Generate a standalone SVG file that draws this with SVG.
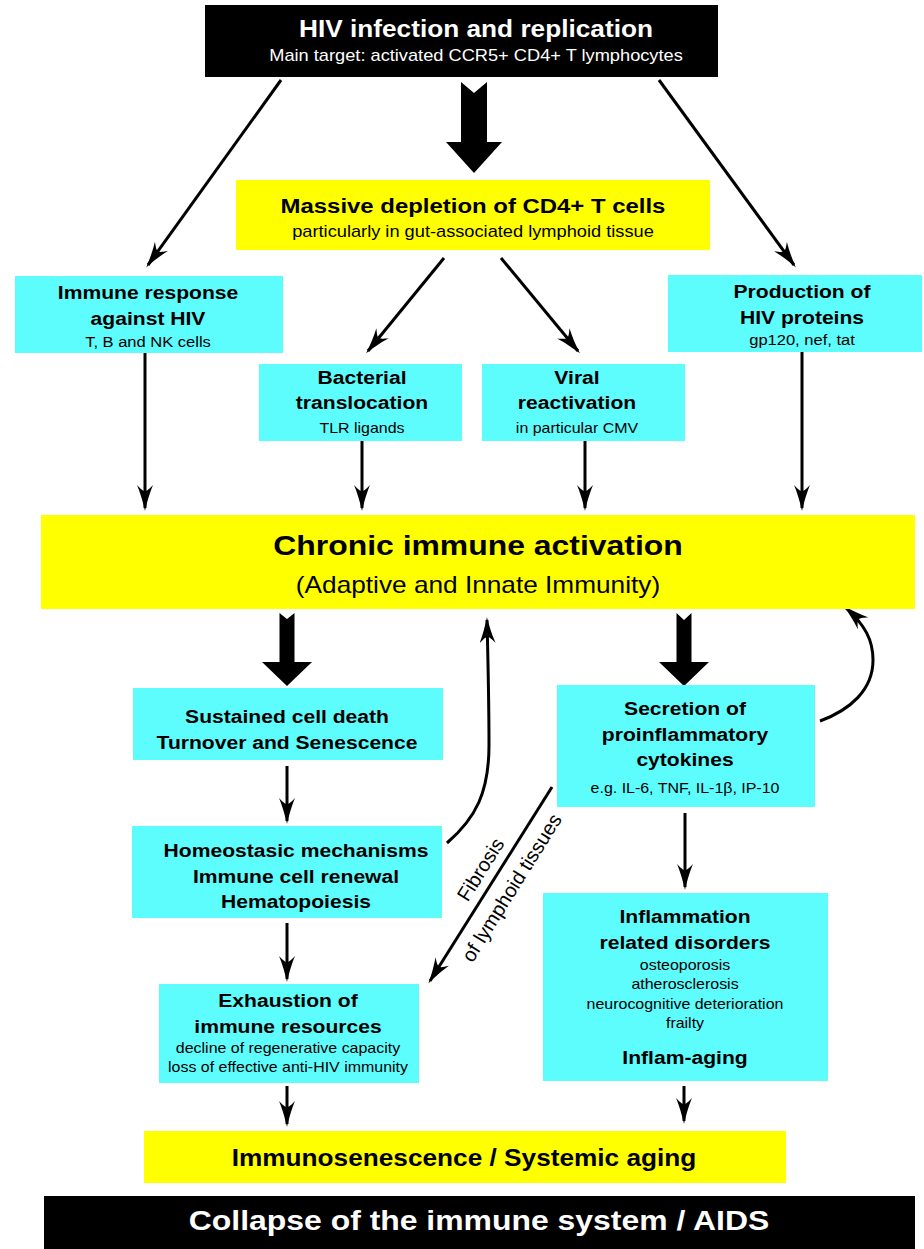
<svg xmlns="http://www.w3.org/2000/svg" width="924" height="1249" viewBox="0 0 924 1249">
  <style>
    text { font-family: "Liberation Sans", Arial, Helvetica, sans-serif; text-anchor: middle; fill: #000; }
    .b { font-weight: bold; }
    .t18 { font-size: 18.5px; font-weight: bold; }
    .s14 { font-size: 14px; }
    .cyan { fill: #5dfdfd; }
    .yellow { fill: #ffff00; }
    .dark { fill: #000; }
    .w { fill: #fff; }
    .ln { fill: none; stroke: #000; stroke-width: 3; marker-end: url(#ah); }
    .blk { fill: #000; }
  </style>
  <defs>
    <!-- slim barbed arrowhead used by all thin connectors -->
    <marker id="ah" markerUnits="userSpaceOnUse" viewBox="0 0 26 16" markerWidth="26" markerHeight="16" refX="23" refY="8" orient="auto">
      <path d="M26,8 C17,6 7,3 0,0 C4,4 6,6 6,8 C6,10 4,12 0,16 C7,13 17,10 26,8 Z" fill="#000"/>
    </marker>
  </defs>

  <!-- connectors -->
  <g id="connectors">
    <line class="ln" x1="281" y1="80" x2="148" y2="265"/>
    <line class="ln" x1="659" y1="80" x2="794" y2="265"/>
    <line class="ln" x1="444" y1="258" x2="368" y2="351"/>
    <line class="ln" x1="501" y1="258" x2="578" y2="351"/>
    <line class="ln" x1="145" y1="353" x2="145" y2="508"/>
    <line class="ln" x1="362" y1="441" x2="362" y2="508"/>
    <line class="ln" x1="585" y1="441" x2="585" y2="508"/>
    <line class="ln" x1="802" y1="352" x2="802" y2="508"/>
    <line class="ln" x1="287" y1="766" x2="287" y2="821"/>
    <line class="ln" x1="287" y1="923" x2="287" y2="979"/>
    <line class="ln" x1="287" y1="1086" x2="287" y2="1124"/>
    <line class="ln" x1="685" y1="813" x2="685" y2="887"/>
    <line class="ln" x1="684" y1="1086" x2="684" y2="1121"/>
    <path class="ln" d="M447,843 C476,818 489,792 489,745 C489,700 488,660 487,620"/>
    <path class="ln" d="M820,721 C850,710 873,690 873,660 C873,640 865,625 846,608"/>
    <line class="ln" x1="552" y1="787" x2="430" y2="981"/>
    <!-- block arrows -->
    <polygon class="blk" points="461,82 474,93 487,82 487,142 502,142 474,173 446,142 461,142"/>
    <polygon class="blk" points="279.5,613 287,619 294.5,613 294.5,662 312,662 287,686 262,662 279.5,662"/>
    <polygon class="blk" points="676.5,613 684,620 691.5,613 691.5,662 709,662 684,686 659,662 676.5,662"/>
    <!-- connector label -->
    <g transform="translate(483,871) rotate(-58)"><text x="0" y="4" font-size="20">Fibrosis</text></g>
    <g transform="translate(509,886) rotate(-58)"><text x="0" y="10" font-size="20">of lymphoid tissues</text></g>
  </g>

  <g id="hiv-infection">
    <rect class="dark" x="205" y="5" width="513" height="72"/>
    <g transform="translate(476,0) scale(1.14,1)">
      <text class="b w" x="0" y="37" font-size="23">HIV infection and replication</text>
      <text class="w" x="0" y="61" font-size="16">Main target: activated CCR5+ CD4+ T lymphocytes</text>
    </g>
  </g>

  <g id="cd4-depletion">
    <rect class="yellow" x="236" y="180" width="474" height="70"/>
    <g transform="translate(473,0) scale(1.14,1)">
      <text class="b" x="0" y="213" font-size="21">Massive depletion of CD4+ T cells</text>
      <text x="0" y="237" font-size="16">particularly in gut-associated lymphoid tissue</text>
    </g>
  </g>

  <g id="immune-response">
    <rect class="cyan" x="15" y="276" width="268" height="77"/>
    <g transform="translate(148,0) scale(1.14,1)">
      <text class="t18" x="0" y="299.5">Immune response</text>
      <text class="t18" x="0" y="325.5">against HIV</text>
      <text x="0" y="347" font-size="14.5">T, B and NK cells</text>
    </g>
  </g>

  <g id="hiv-proteins">
    <rect class="cyan" x="668" y="275" width="254" height="77"/>
    <g transform="translate(802,0) scale(1.14,1)">
      <text class="t18" x="0" y="298.5">Production of</text>
      <text class="t18" x="0" y="324.5">HIV proteins</text>
      <text x="0" y="345" font-size="14.5">gp120, nef, tat</text>
    </g>
  </g>

  <g id="bacterial-translocation">
    <rect class="cyan" x="259" y="364" width="203" height="77"/>
    <g transform="translate(362,0) scale(1.14,1)">
      <text class="t18" x="0" y="384.5">Bacterial</text>
      <text class="t18" x="0" y="409.5">translocation</text>
      <text class="s14" x="0" y="433">TLR ligands</text>
    </g>
  </g>

  <g id="viral-reactivation">
    <rect class="cyan" x="482" y="364" width="203" height="77"/>
    <g transform="translate(577,0) scale(1.14,1)">
      <text class="t18" x="0" y="384.5">Viral</text>
      <text class="t18" x="0" y="409.5">reactivation</text>
      <text class="s14" x="0" y="433">in particular CMV</text>
    </g>
  </g>

  <g id="chronic-activation">
    <rect class="yellow" x="41" y="515" width="874" height="94"/>
    <g transform="translate(478,0) scale(1.14,1)">
      <text class="b" x="0" y="555" font-size="28">Chronic immune activation</text>
      <text x="0" y="593" font-size="23">(Adaptive and Innate Immunity)</text>
    </g>
  </g>

  <g id="cell-death">
    <rect class="cyan" x="133" y="688" width="310" height="72"/>
    <g transform="translate(287,0) scale(1.14,1)">
      <text class="t18" x="0" y="723.5">Sustained cell death</text>
      <text class="t18" x="0" y="749.5">Turnover and Senescence</text>
    </g>
  </g>

  <g id="homeostasis">
    <rect class="cyan" x="132" y="826" width="310" height="92"/>
    <g transform="translate(296,0) scale(1.14,1)">
      <text class="t18" x="0" y="857.5">Homeostasic mechanisms</text>
      <text class="t18" x="0" y="883.5">Immune cell renewal</text>
      <text class="t18" x="0" y="908.5">Hematopoiesis</text>
    </g>
  </g>

  <g id="cytokines">
    <rect class="cyan" x="557" y="685" width="258" height="122"/>
    <g transform="translate(685,0) scale(1.14,1)">
      <text class="t18" x="0" y="715.5">Secretion of</text>
      <text class="t18" x="0" y="741.5">proinflammatory</text>
      <text class="t18" x="0" y="766.5">cytokines</text>
      <text class="s14" x="0" y="793">e.g. IL-6, TNF, IL-1β, IP-10</text>
    </g>
  </g>

  <g id="inflammation">
    <rect class="cyan" x="543" y="893" width="285" height="188"/>
    <g transform="translate(685,0) scale(1.14,1)">
      <text class="t18" x="0" y="923.5">Inflammation</text>
      <text class="t18" x="0" y="949.5">related disorders</text>
      <text class="s14" x="0" y="970">osteoporosis</text>
      <text class="s14" x="0" y="989">atherosclerosis</text>
      <text class="s14" x="0" y="1009">neurocognitive deterioration</text>
      <text class="s14" x="0" y="1028">frailty</text>
      <text class="t18" x="0" y="1064.5">Inflam-aging</text>
    </g>
  </g>

  <g id="exhaustion">
    <rect class="cyan" x="159" y="984" width="260" height="99"/>
    <g transform="translate(288,0) scale(1.14,1)">
      <text class="t18" x="0" y="1007.5">Exhaustion of</text>
      <text class="t18" x="0" y="1033.5">immune resources</text>
      <text class="s14" x="0" y="1053">decline of regenerative capacity</text>
      <text class="s14" x="0" y="1072">loss of effective anti-HIV immunity</text>
    </g>
  </g>

  <g id="immunosenescence">
    <rect class="yellow" x="144" y="1131" width="642" height="52"/>
    <g transform="translate(464,0) scale(1.14,1)">
      <text class="b" x="0" y="1166" font-size="23">Immunosenescence / Systemic aging</text>
    </g>
  </g>

  <g id="aids">
    <rect class="dark" x="44" y="1196" width="871" height="53"/>
    <g transform="translate(479,0) scale(1.14,1)">
      <text class="b w" x="0" y="1230" font-size="28">Collapse of the immune system / AIDS</text>
    </g>
  </g>
</svg>
